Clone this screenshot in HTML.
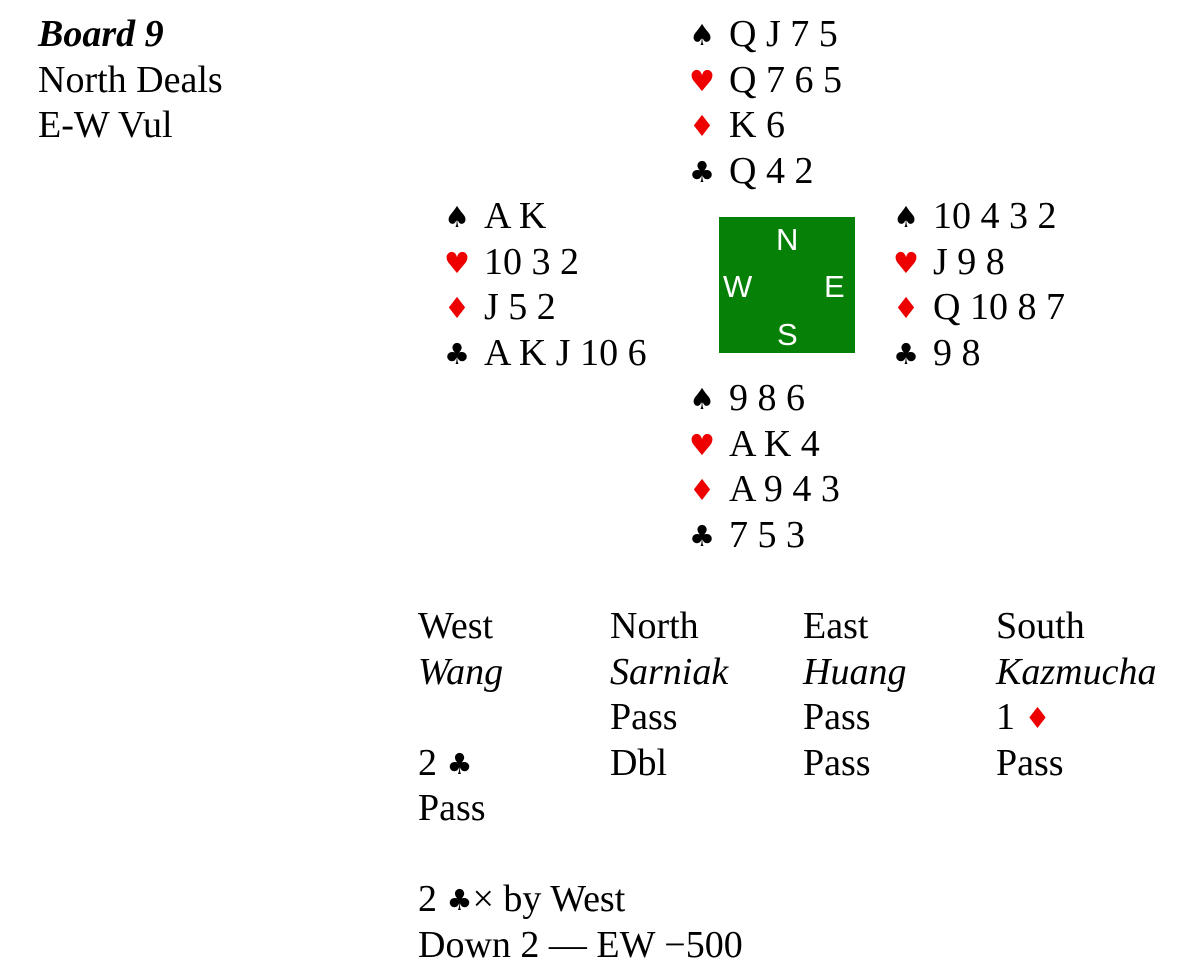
<!DOCTYPE html>
<html><head><meta charset="utf-8"><style>
body{margin:0;width:1200px;height:975px;background:#fff;position:relative;overflow:hidden;font-family:"Liberation Serif",serif;font-size:38px;color:#000}
.t{position:absolute;line-height:45.5px;white-space:nowrap}
.t div{height:45.5px}
.s{font-family:"DejaVu Sans",sans-serif;font-size:29px;line-height:0;display:inline-block;width:40px;vertical-align:1px}
.c{font-family:"DejaVu Sans",sans-serif;font-size:29px;line-height:0;vertical-align:1px}
.r{color:#e00}
.box{position:absolute;left:719px;top:217px;width:136px;height:136px;background:#068006}
.box span{position:absolute;color:#fff;font-family:"Liberation Sans",sans-serif;font-size:31px;line-height:31px}
</style></head><body>
<div class="t" style="left:38px;top:12px"><div><b><i>Board 9</i></b></div><div>North Deals</div><div>E-W Vul</div></div>

<div class="t" style="left:689px;top:12px"><div><span class="s">♠</span>Q J 7 5</div><div><span class="s r">♥</span>Q 7 6 5</div><div><span class="s r">♦</span>K 6</div><div><span class="s">♣</span>Q 4 2</div></div>

<div class="t" style="left:444px;top:194px"><div><span class="s">♠</span>A K</div><div><span class="s r">♥</span>10 3 2</div><div><span class="s r">♦</span>J 5 2</div><div><span class="s">♣</span>A K J 10 6</div></div>

<div class="t" style="left:893px;top:194px"><div><span class="s">♠</span>10 4 3 2</div><div><span class="s r">♥</span>J 9 8</div><div><span class="s r">♦</span>Q 10 8 7</div><div><span class="s">♣</span>9 8</div></div>

<div class="t" style="left:689px;top:376px"><div><span class="s">♠</span>9 8 6</div><div><span class="s r">♥</span>A K 4</div><div><span class="s r">♦</span>A 9 4 3</div><div><span class="s">♣</span>7 5 3</div></div>

<div class="box"><span style="left:57px;top:7px">N</span><span style="left:4px;top:54px">W</span><span style="left:105px;top:54px">E</span><span style="left:58px;top:102px">S</span></div>

<div class="t" style="left:418px;top:604px"><div>West</div><div><i>Wang</i></div><div></div><div>2 <span class="c">♣</span></div><div>Pass</div><div></div><div>2 <span class="c">♣</span>× by West</div><div>Down 2 — EW −500</div></div>
<div class="t" style="left:610px;top:604px"><div>North</div><div><i>Sarniak</i></div><div>Pass</div><div>Dbl</div></div>
<div class="t" style="left:803px;top:604px"><div>East</div><div><i>Huang</i></div><div>Pass</div><div>Pass</div></div>
<div class="t" style="left:996px;top:604px"><div>South</div><div><i>Kazmucha</i></div><div>1 <span class="c r">♦</span></div><div>Pass</div></div>
</body></html>
